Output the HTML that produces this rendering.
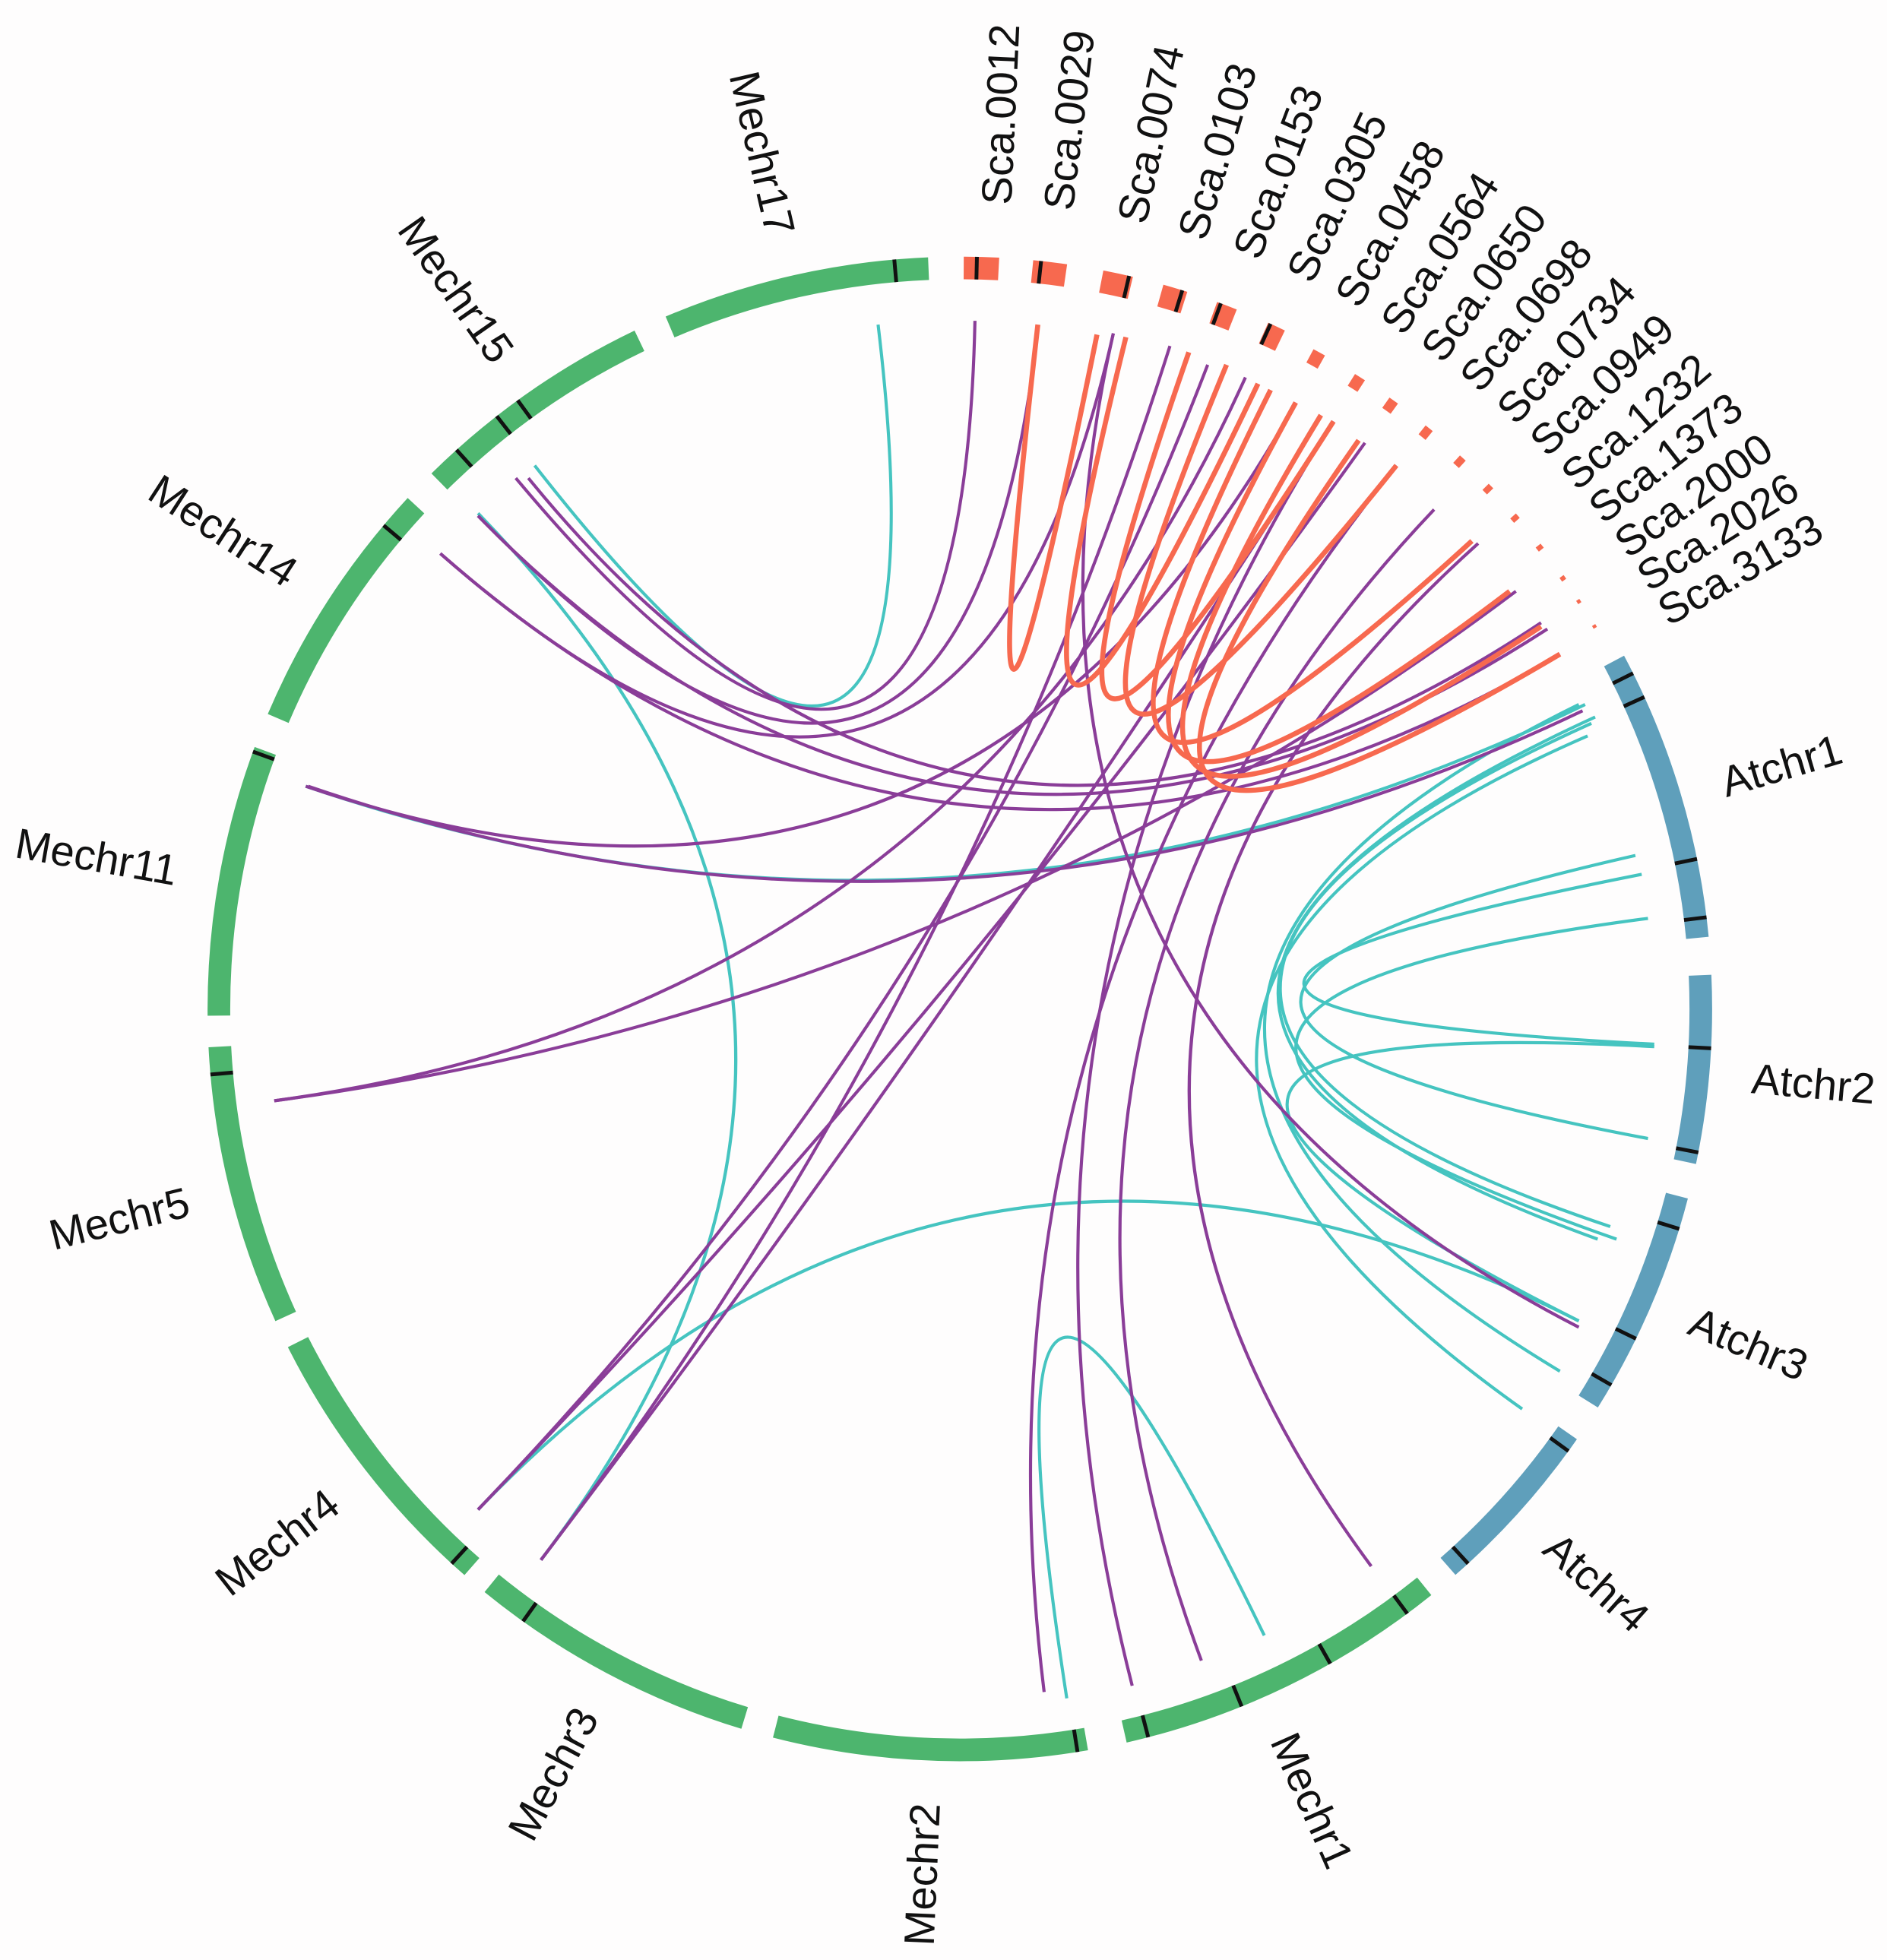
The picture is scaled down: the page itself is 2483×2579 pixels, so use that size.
<!DOCTYPE html>
<html><head><meta charset="utf-8"><style>
html,body{margin:0;padding:0;background:#fefdfd}
svg{display:block}
text{font-family:"Liberation Sans",sans-serif;fill:#111}
</style></head><body>
<svg width="2483" height="2579" viewBox="0 0 1500 1558" preserveAspectRatio="none">
<rect width="1500" height="1558" fill="#fefdfd"/>
<g transform="translate(763,802)">
<g transform="rotate(-90)" fill="none" stroke-width="18">
<g stroke="#f7694f">
<circle r="589" pathLength="360" stroke-dasharray="2.7 400" stroke-dashoffset="-0.3"/>
<circle r="589" pathLength="360" stroke-dasharray="2.6 400" stroke-dashoffset="-5.6"/>
<circle r="589" pathLength="360" stroke-dasharray="2.3 400" stroke-dashoffset="-11"/>
<circle r="589" pathLength="360" stroke-dasharray="1.9 400" stroke-dashoffset="-15.7"/>
<circle r="589" pathLength="360" stroke-dasharray="1.6 400" stroke-dashoffset="-20"/>
<circle r="589" pathLength="360" stroke-dasharray="1.4 400" stroke-dashoffset="-24.2"/>
<circle r="589" pathLength="360" stroke-dasharray="1.0 400" stroke-dashoffset="-28.2" stroke-width="12"/>
<circle r="589" pathLength="360" stroke-dasharray="0.9 400" stroke-dashoffset="-31.9" stroke-width="11"/>
<circle r="589" pathLength="360" stroke-dasharray="0.8 400" stroke-dashoffset="-35.1" stroke-width="10"/>
<circle r="589" pathLength="360" stroke-dasharray="0.7 400" stroke-dashoffset="-38.6" stroke-width="9"/>
<circle r="589" pathLength="360" stroke-dasharray="0.6 400" stroke-dashoffset="-42.1" stroke-width="8"/>
<circle r="589" pathLength="360" stroke-dasharray="0.5 400" stroke-dashoffset="-45.2" stroke-width="7"/>
<circle r="589" pathLength="360" stroke-dasharray="0.45 400" stroke-dashoffset="-48.3" stroke-width="6"/>
<circle r="589" pathLength="360" stroke-dasharray="0.4 400" stroke-dashoffset="-51.3" stroke-width="5"/>
<circle r="589" pathLength="360" stroke-dasharray="0.35 400" stroke-dashoffset="-54.3" stroke-width="4"/>
<circle r="589" pathLength="360" stroke-dasharray="0.3 400" stroke-dashoffset="-56.5" stroke-width="3"/>
<circle r="589" pathLength="360" stroke-dasharray="0.25 400" stroke-dashoffset="-58.8" stroke-width="3"/>
</g>
<g stroke="#5f9fbb">
<circle r="589" pathLength="360" stroke-dasharray="22.5 400" stroke-dashoffset="-62"/>
<circle r="589" pathLength="360" stroke-dasharray="14.5 400" stroke-dashoffset="-87.4"/>
<circle r="589" pathLength="360" stroke-dasharray="17.4 400" stroke-dashoffset="-104.6"/>
<circle r="589" pathLength="360" stroke-dasharray="13.9 400" stroke-dashoffset="-124.9"/>
</g>
<g stroke="#4db56e">
<circle r="589" pathLength="360" stroke-dasharray="26 400" stroke-dashoffset="-141.2"/>
<circle r="589" pathLength="360" stroke-dasharray="24.2 400" stroke-dashoffset="-170.2"/>
<circle r="589" pathLength="360" stroke-dasharray="22.3 400" stroke-dashoffset="-196.9"/>
<circle r="589" pathLength="360" stroke-dasharray="22.1 400" stroke-dashoffset="-221.2"/>
<circle r="589" pathLength="360" stroke-dasharray="21.6 400" stroke-dashoffset="-245.5"/>
<circle r="589" pathLength="360" stroke-dasharray="20.9 400" stroke-dashoffset="-269.5"/>
<circle r="589" pathLength="360" stroke-dasharray="19.7 400" stroke-dashoffset="-293.1"/>
<circle r="589" pathLength="360" stroke-dasharray="19 400" stroke-dashoffset="-315.4"/>
<circle r="589" pathLength="360" stroke-dasharray="20.6 400" stroke-dashoffset="-337"/>
</g>
</g>
<g stroke="#111" stroke-width="3">
<line x1="0" y1="-580" x2="0" y2="-598" transform="rotate(1.3)"/>
<line x1="0" y1="-580" x2="0" y2="-598" transform="rotate(6.2)"/>
<line x1="0" y1="-580" x2="0" y2="-598" transform="rotate(13)"/>
<line x1="0" y1="-580" x2="0" y2="-598" transform="rotate(17.2)"/>
<line x1="0" y1="-580" x2="0" y2="-598" transform="rotate(20.3)"/>
<line x1="0" y1="-580" x2="0" y2="-598" transform="rotate(24.4)"/>
<line x1="0" y1="-580" x2="0" y2="-598" transform="rotate(63.5)"/>
<line x1="0" y1="-580" x2="0" y2="-598" transform="rotate(65.5)"/>
<line x1="0" y1="-580" x2="0" y2="-598" transform="rotate(78.5)"/>
<line x1="0" y1="-580" x2="0" y2="-598" transform="rotate(83)"/>
<line x1="0" y1="-580" x2="0" y2="-598" transform="rotate(93)"/>
<line x1="0" y1="-580" x2="0" y2="-598" transform="rotate(101)"/>
<line x1="0" y1="-580" x2="0" y2="-598" transform="rotate(107)"/>
<line x1="0" y1="-580" x2="0" y2="-598" transform="rotate(116)"/>
<line x1="0" y1="-580" x2="0" y2="-598" transform="rotate(120)"/>
<line x1="0" y1="-580" x2="0" y2="-598" transform="rotate(126)"/>
<line x1="0" y1="-580" x2="0" y2="-598" transform="rotate(137.5)"/>
<line x1="0" y1="-580" x2="0" y2="-598" transform="rotate(143.5)"/>
<line x1="0" y1="-580" x2="0" y2="-598" transform="rotate(150.5)"/>
<line x1="0" y1="-580" x2="0" y2="-598" transform="rotate(158)"/>
<line x1="0" y1="-580" x2="0" y2="-598" transform="rotate(165.5)"/>
<line x1="0" y1="-580" x2="0" y2="-598" transform="rotate(171)"/>
<line x1="0" y1="-580" x2="0" y2="-598" transform="rotate(215.5)"/>
<line x1="0" y1="-580" x2="0" y2="-598" transform="rotate(222.5)"/>
<line x1="0" y1="-580" x2="0" y2="-598" transform="rotate(265)"/>
<line x1="0" y1="-580" x2="0" y2="-598" transform="rotate(290)"/>
<line x1="0" y1="-580" x2="0" y2="-598" transform="rotate(310)"/>
<line x1="0" y1="-580" x2="0" y2="-598" transform="rotate(318)"/>
<line x1="0" y1="-580" x2="0" y2="-598" transform="rotate(322)"/>
<line x1="0" y1="-580" x2="0" y2="-598" transform="rotate(324)"/>
<line x1="0" y1="-580" x2="0" y2="-598" transform="rotate(355)"/>
</g>
<g font-size="34" dominant-baseline="central">
<text transform="rotate(2.6) translate(0,-640) rotate(-90)">Sca.0012</text>
<text transform="rotate(7) translate(0,-640) rotate(-90)">Sca.0029</text>
<text transform="rotate(12.3) translate(0,-640) rotate(-90)">Sca.0074</text>
<text transform="rotate(16.7) translate(0,-640) rotate(-90)">Sca.0103</text>
<text transform="rotate(20.8) translate(0,-640) rotate(-90)">Sca.0153</text>
<text transform="rotate(24.9) translate(0,-640) rotate(-90)">Sca.0305</text>
<text transform="rotate(28.7) translate(0,-640) rotate(-90)">Sca.0458</text>
<text transform="rotate(32.4) translate(0,-640) rotate(-90)">Sca.0564</text>
<text transform="rotate(35.8) translate(0,-640) rotate(-90)">Sca.0650</text>
<text transform="rotate(39.2) translate(0,-640) rotate(-90)">Sca.0698</text>
<text transform="rotate(42.6) translate(0,-640) rotate(-90)">Sca.0734</text>
<text transform="rotate(45.8) translate(0,-640) rotate(-90)">Sca.0949</text>
<text transform="rotate(49) translate(0,-640) rotate(-90)">Sca.1232</text>
<text transform="rotate(52) translate(0,-640) rotate(-90)">Sca.1373</text>
<text transform="rotate(55) translate(0,-640) rotate(-90)">Sca.2000</text>
<text transform="rotate(57.8) translate(0,-640) rotate(-90)">Sca.2026</text>
<text transform="rotate(60.6) translate(0,-640) rotate(-90)">Sca.3133</text>
<text transform="rotate(73.5) translate(0,-632) rotate(-90)">Atchr1</text>
<text transform="rotate(95) translate(0,-632) rotate(-90)">Atchr2</text>
<text transform="rotate(113) translate(0,-632) rotate(-90)">Atchr3</text>
<text transform="rotate(132) translate(0,-632) rotate(-90)">Atchr4</text>
<text transform="rotate(156) translate(0,-632) rotate(-90)">Mechr1</text>
<text transform="rotate(182.5) translate(0,-632) rotate(90)" text-anchor="end">Mechr2</text>
<text transform="rotate(208) translate(0,-632) rotate(90)" text-anchor="end">Mechr3</text>
<text transform="rotate(232) translate(0,-632) rotate(90)" text-anchor="end">Mechr4</text>
<text transform="rotate(256) translate(0,-632) rotate(90)" text-anchor="end">Mechr5</text>
<text transform="rotate(280) translate(0,-632) rotate(90)" text-anchor="end">Mechr11</text>
<text transform="rotate(303) translate(0,-632) rotate(90)" text-anchor="end">Mechr14</text>
<text transform="rotate(325) translate(0,-632) rotate(90)" text-anchor="end">Mechr15</text>
<text transform="rotate(347) translate(0,-632) rotate(90)" text-anchor="end">Mechr17</text>
</g>
</g>
<g fill="none" stroke-width="2.5">
<g stroke="#45c4c0">
<path d="M698,258 Q763,802 425,370"/>
<path d="M380,408 Q763,802 430,1240"/>
<path d="M243,625 Q763,802 1260,560"/>
<path d="M380,1200 Q763,802 1255,1050"/>
<path d="M848,1350 Q763,802 1005,1300"/>
<path d="M1300,680 Q763,802 1310,905"/>
<path d="M1310,730 Q763,802 1285,985"/>
<path d="M1305,695 Q763,802 1315,830"/>
<path d="M1265,575 Q763,802 1280,975"/>
<path d="M1255,560 Q763,802 1240,1090"/>
<path d="M1262,585 Q763,802 1210,1120"/>
<path d="M1315,832 Q763,802 1255,1050"/>
<path d="M1268,570 Q763,802 1270,985"/>
</g>
<g stroke="#8a3d98">
<path d="M775,255 Q763,802 410,380"/>
<path d="M825,262 Q763,802 380,410"/>
<path d="M885,265 Q763,802 350,440"/>
<path d="M930,275 Q763,802 430,1240"/>
<path d="M960,290 Q763,802 380,1200"/>
<path d="M990,300 Q763,802 218,875"/>
<path d="M1030,320 Q763,802 243,625"/>
<path d="M1060,335 Q763,802 900,1340"/>
<path d="M1110,370 Q763,802 830,1345"/>
<path d="M1140,405 Q763,802 955,1320"/>
<path d="M1175,432 Q763,802 1090,1245"/>
<path d="M885,265 Q763,802 1255,1055"/>
<path d="M1225,495 Q763,802 420,380"/>
<path d="M1240,520 Q763,802 350,440"/>
<path d="M1258,565 Q763,802 245,625"/>
<path d="M1230,500 Q763,802 380,410"/>
<path d="M1205,470 Q763,802 218,875"/>
<path d="M1060,335 Q763,802 430,1240"/>
<path d="M1085,352 Q763,802 380,1200"/>
</g>
<g stroke="#f7694f" stroke-width="4">
<path d="M825,258 Q763,802 872,266"/>
<path d="M895,268 Q763,802 1000,305"/>
<path d="M945,280 Q763,802 1060,335"/>
<path d="M975,290 Q763,802 1110,370"/>
<path d="M1010,310 Q763,802 1170,430"/>
<path d="M1030,320 Q763,802 1200,470"/>
<path d="M1050,330 Q763,802 1225,498"/>
<path d="M1080,350 Q763,802 1240,520"/>
</g>
</g>
</svg>
</body></html>
